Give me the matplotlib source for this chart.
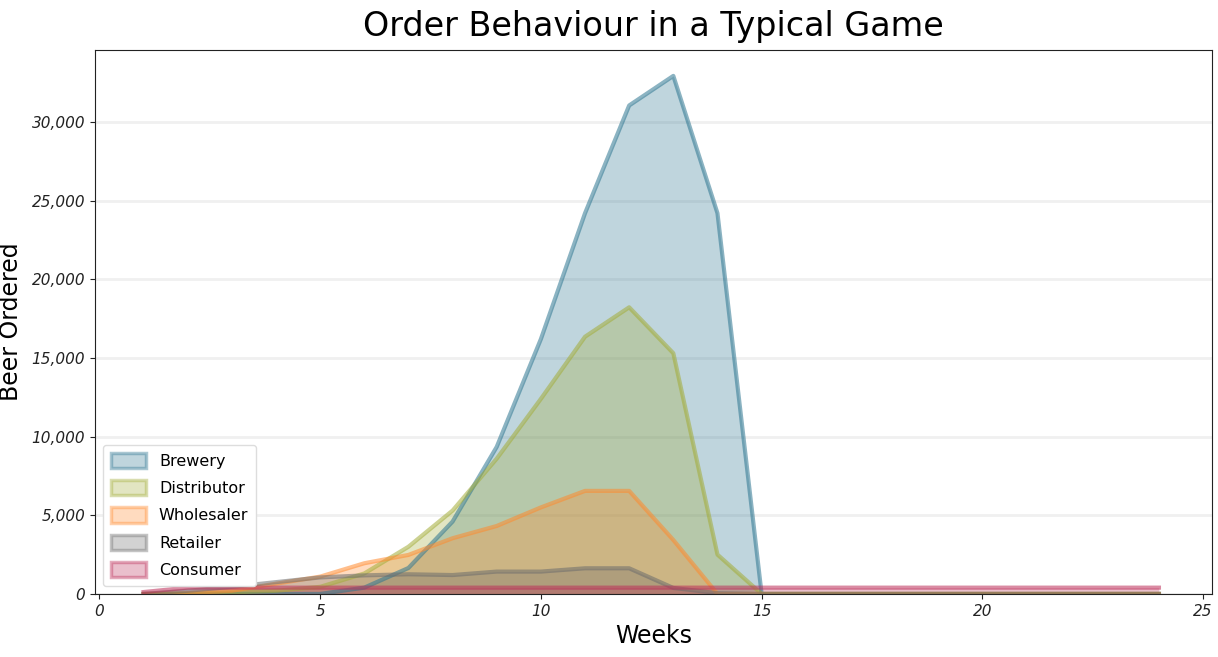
import matplotlib
matplotlib.use("Agg")
import matplotlib.pyplot as plt
from matplotlib.patches import Patch
from matplotlib.ticker import FuncFormatter

weeks = list(range(1, 25))
brewery = [0, 0, 0, 0, 0, 400, 1650, 4600, 9350, 16200, 24200, 31050, 32930, 24200, 0,
           0, 0, 0, 0, 0, 0, 0, 0, 0]
distributor = [0, 0, 100, 200, 450, 1300, 3000, 5300, 8600, 12400, 16350, 18220, 15300, 2500, 0,
               0, 0, 0, 0, 0, 0, 0, 0, 0]
wholesaler = [0, 50, 200, 650, 1100, 1950, 2480, 3540, 4320, 5500, 6550, 6550, 3430, 0, 0,
              0, 0, 0, 0, 0, 0, 0, 0, 0]
retailer = [0, 200, 450, 750, 1050, 1180, 1250, 1200, 1420, 1420, 1630, 1630, 380, 50, 0,
            0, 0, 0, 0, 0, 0, 0, 0, 0]
consumer = [120, 400, 400, 400, 400, 400, 400, 400, 400, 400, 400, 400, 400, 400, 400,
            400, 400, 400, 400, 400, 400, 400, 400, 400]

series = [("Brewery", brewery, "#2c7590"),
          ("Distributor", distributor, "#a2ac37"),
          ("Wholesaler", wholesaler, "#ff8a2d"),
          ("Retailer", retailer, "#6c6c6c"),
          ("Consumer", consumer, "#bc2d58")]

fig = plt.figure(figsize=(12.18, 6.57), dpi=100)
ax = fig.add_axes([0.078, 0.096, 0.917, 0.828])

handles = []
for name, vals, col in series:
    ax.fill_between(weeks, vals, 0, color=col, alpha=0.3, linewidth=0)
    ax.plot(weeks, vals, color=col, alpha=0.55, linewidth=3)
    handles.append(Patch(facecolor=(*matplotlib.colors.to_rgb(col), 0.3),
                         edgecolor=(*matplotlib.colors.to_rgb(col), 0.4),
                         linewidth=2.5, label=name))

ax.set_xlim(-0.1, 25.2)
ax.set_ylim(0, 34580)
ax.set_yticks([0, 5000, 10000, 15000, 20000, 25000, 30000])
ax.set_xticks([0, 5, 10, 15, 20, 25])
ax.yaxis.set_major_formatter(FuncFormatter(lambda v, p: f"{int(v):,}"))
ax.grid(axis="y", color="#f0f0f0", linewidth=2)
ax.set_axisbelow(True)
for s in ax.spines.values():
    s.set_color("#222222")
ax.tick_params(labelsize=11, colors="#222222")
for lab in ax.get_xticklabels() + ax.get_yticklabels():
    lab.set_fontstyle("italic")

ax.set_title("Order Behaviour in a Typical Game", fontsize=24, pad=10)
ax.set_xlabel("Weeks", fontsize=17, labelpad=4)
ax.set_ylabel("Beer Ordered", fontsize=17, labelpad=6)

ax.legend(handles=handles, loc="lower left", fontsize=11.5, frameon=True,
          handlelength=2.2, handleheight=1.1, labelspacing=0.7,
          borderpad=0.5, framealpha=1, edgecolor="#dddddd")

fig.savefig("out.png", dpi=100)
